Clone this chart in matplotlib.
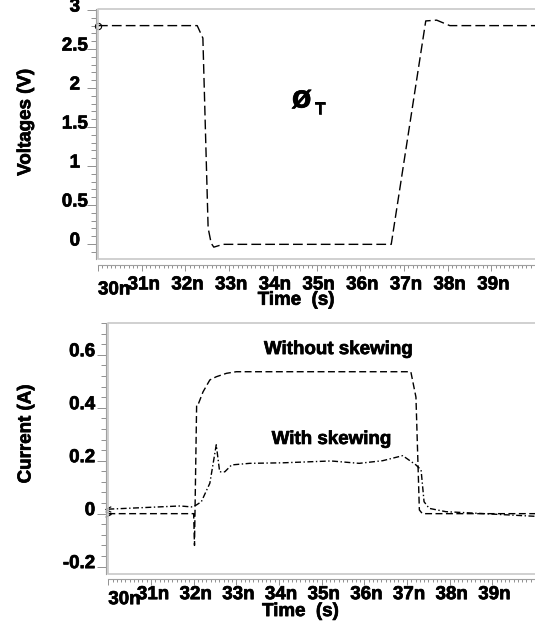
import matplotlib
matplotlib.use("Agg")
import matplotlib.pyplot as plt
import matplotlib.patheffects as pe
from matplotlib.ticker import FixedLocator, FixedFormatter, MultipleLocator
from matplotlib.transforms import ScaledTranslation

plt.rcParams['font.family'] = ['Liberation Sans', 'DejaVu Sans']
plt.rcParams['font.weight'] = 'bold'

# time axis (ns)
time_ticks = [30, 31, 32, 33, 34, 35, 36, 37, 38, 39]
time_labels = ['30n', '31n', '32n', '33n', '34n', '35n', '36n', '37n', '38n', '39n']

# phi_T voltage
t_phi = [30.0, 32.27, 32.4, 32.52, 32.59, 32.65, 32.86, 36.71, 37.5, 37.75, 38.05, 40.0]
v_phi = [2.8, 2.8, 2.64, 0.205, 0.01, -0.04, -0.004, -0.004, 2.86, 2.87, 2.8, 2.8]
v_ticks = [0, 0.5, 1, 1.5, 2, 2.5, 3]
v_labels = ['0', '0.5', '1', '1.5', '2', '2.5', '3']

# supply current without skewing
t_noskew = [30.0, 32.0, 32.02, 32.07, 32.1, 32.22, 32.38, 32.53, 32.77, 33.0,
            37.09, 37.21, 37.29, 37.36, 40.0]
i_noskew = [0.0, 0.0, -0.12, 0.41, 0.41, 0.46, 0.505, 0.517, 0.53, 0.536,
            0.536, 0.44, 0.014, 0.0, 0.0]

# supply current with skewing
t_skew = [30.0, 31.68, 31.99, 32.18, 32.38, 32.53, 32.61, 32.73, 32.89, 33.31,
          34.09, 35.22, 35.88, 36.43, 36.9, 37.21, 37.33, 37.4, 37.52, 37.91, 40.0]
i_skew = [0.017, 0.029, 0.025, 0.045, 0.115, 0.26, 0.158, 0.158, 0.184, 0.19,
          0.192, 0.199, 0.19, 0.2, 0.219, 0.184, 0.165, 0.045, 0.02, 0.0075, -0.01]
i_ticks = [-0.2, 0, 0.2, 0.4, 0.6]
i_labels = ['-0.2', '0', '0.2', '0.4', '0.6']

heavy = [pe.withStroke(linewidth=0.5, foreground='black')]

fig = plt.figure(figsize=(5.35, 6.22), dpi=100)
ax1 = fig.add_axes([98 / 535, 1 - 259 / 622, 437 / 535, 250 / 622])
ax2 = fig.add_axes([108.3 / 535, 1 - 573.5 / 622, 426.7 / 535, 250.5 / 622])

left_chevron = [(1, 1), (-1, 0), (1, -1)]
right_chevron = [(-1, 1), (1, 0), (-1, -1)]

ax1.plot(t_phi, v_phi, color='black', lw=1.0, dashes=(7, 3))
ax1.plot(t_phi[:1], v_phi[:1], marker='o', ms=4.5, mfc='none', mec='black',
         mew=0.8, clip_on=False)
ax1.set_ylim(-0.192, 3.013)

ax2.plot(t_noskew, i_noskew, color='black', lw=1.0, dashes=(5, 2.5))
ax2.plot(t_skew, i_skew, color='black', lw=1.0, dashes=(4.3, 1.8, 1, 1.8))
ax2.plot(t_noskew[:1], i_noskew[:1], marker=right_chevron, ms=4, mfc='none',
         mec='black', mew=0.8, clip_on=False)
ax2.plot(t_skew[:1], i_skew[:1], marker=left_chevron, ms=4, mfc='none',
         mec='black', mew=0.8, clip_on=False)
ax2.set_ylim(-0.226, 0.72)

setup = [
    (ax1, v_ticks, v_labels, 0.1, 4.5, 4.0, 'center', 8.4, 'Voltages (V)',
     (-0.146, 0.546), (0.453, -0.131)),
    (ax2, i_ticks, i_labels, 0.04, 3.6, 1.5, 'right', 1.2, 'Current (A)',
     (-0.173, 0.556), (0.45, -0.118)),
]

for ax, yt, yl, yminor, xoff, xpad, yha, ypad, ylab, ylc, xlc in setup:
    ax.set_xlim(30, 40)
    for side in ['top', 'right']:
        ax.spines[side].set_visible(False)
    ax.spines['left'].set_position(('outward', 1.8))
    ax.spines['bottom'].set_position(('outward', xoff))
    for side in ['left', 'bottom']:
        ax.spines[side].set_color('#a0a0a0')
        ax.spines[side].set_linewidth(0.8)
    # plot frame
    ax.plot([1, 0, 0, 1], [1, 1, 0, 0], transform=ax.transAxes,
            color='#c8c8c8', lw=1.2, clip_on=False)

    ax.xaxis.set_major_locator(FixedLocator(time_ticks))
    ax.xaxis.set_major_formatter(FixedFormatter(time_labels))
    ax.xaxis.set_minor_locator(MultipleLocator(0.1))
    ax.yaxis.set_major_locator(FixedLocator(yt))
    ax.yaxis.set_major_formatter(FixedFormatter(yl))
    ax.yaxis.set_minor_locator(MultipleLocator(yminor))

    ax.tick_params(which='both', direction='out', color='#909090', width=0.7)
    ax.tick_params(axis='x', which='major', length=4, pad=xpad, labelsize=13.5)
    ax.tick_params(axis='x', which='minor', length=2.3)
    ax.tick_params(axis='y', which='major', length=6.5, pad=ypad, labelsize=13.5)
    ax.tick_params(axis='y', which='minor', length=3.5)

    ax.set_ylabel(ylab, fontsize=13.5, fontweight='bold', path_effects=heavy)
    ax.yaxis.set_label_coords(*ylc)
    ax.set_xlabel('Time  (s)', fontsize=13.5, fontweight='bold', path_effects=heavy)
    ax.xaxis.set_label_coords(*xlc)

    up = ScaledTranslation(0, 5 / 100, fig.dpi_scale_trans)
    for tick in ax.yaxis.get_major_ticks():
        tick.label1.set_ha(yha)
        tick.label1.set_transform(tick.label1.get_transform() + up)
        tick.label1.set_path_effects(heavy)
    for k, tick in enumerate(ax.xaxis.get_major_ticks()):
        if k == 0:
            shift = ScaledTranslation(0, -5 / 100, fig.dpi_scale_trans)
            tick.label1.set_ha('left')
        else:
            shift = ScaledTranslation(2 / 100, 0, fig.dpi_scale_trans)
        tick.label1.set_transform(tick.label1.get_transform() + shift)
        tick.label1.set_path_effects(heavy)

ax1.text(0.466, 0.638, '\u00f8', transform=ax1.transAxes, fontsize=23,
         fontweight='bold', ha='center', va='center', path_effects=heavy)
ax1.text(0.508, 0.600, 'T', transform=ax1.transAxes, fontsize=12,
         fontweight='bold', ha='center', va='center', path_effects=heavy)

ax2.text(0.539, 0.894, 'Without skewing', transform=ax2.transAxes,
         fontsize=13.5, fontweight='bold', ha='center', va='center',
         path_effects=heavy)
ax2.text(0.523, 0.535, 'With skewing', transform=ax2.transAxes,
         fontsize=13.5, fontweight='bold', ha='center', va='center',
         path_effects=heavy)

fig.savefig('out.png', dpi=100)
